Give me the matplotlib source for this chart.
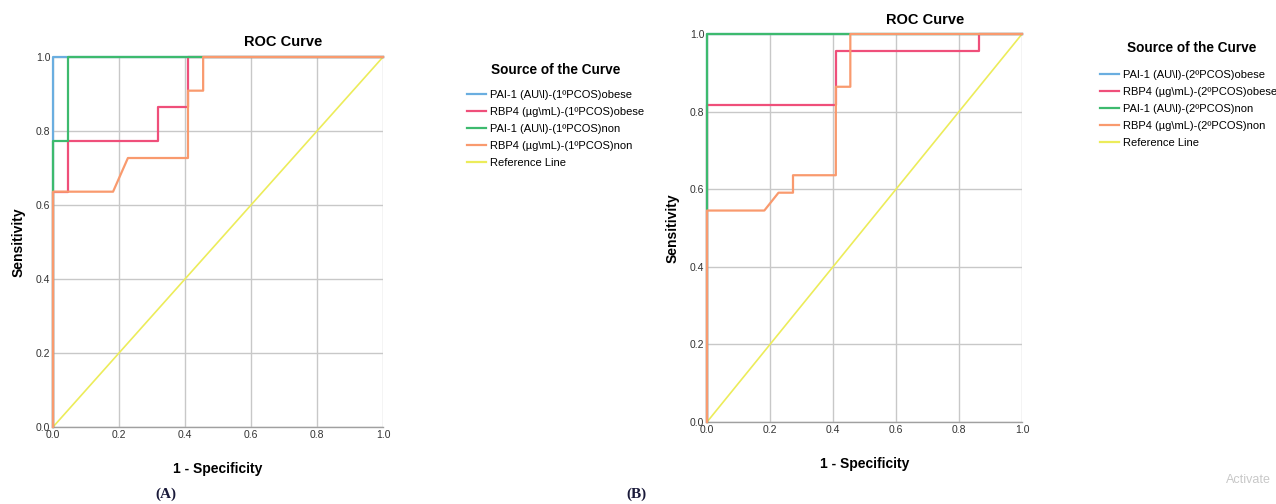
import matplotlib
matplotlib.use("Agg")
import matplotlib.pyplot as plt
from matplotlib.lines import Line2D

plt.rcParams['font.family'] = ['Liberation Sans', 'DejaVu Sans']

# ---------------- data ----------------
# Panel A (1ºPCOS)
a_pai_obese_x = [0.0, 0.0, 1.0]
a_pai_obese_y = [0.0, 1.0, 1.0]
a_rbp_obese_x = [0.0, 0.0, 0.045, 0.045, 0.318, 0.318, 0.409, 0.409, 1.0]
a_rbp_obese_y = [0.0, 0.636, 0.636, 0.773, 0.773, 0.864, 0.864, 1.0, 1.0]
a_pai_non_x = [0.0, 0.0, 0.045, 0.045, 1.0]
a_pai_non_y = [0.0, 0.773, 0.773, 1.0, 1.0]
a_rbp_non_x = [0.0, 0.0, 0.182, 0.227, 0.409, 0.409, 0.455, 0.455, 1.0]
a_rbp_non_y = [0.0, 0.636, 0.636, 0.727, 0.727, 0.909, 0.909, 1.0, 1.0]

# Panel B (2ºPCOS)
b_pai_obese_x = [0.0, 0.0, 1.0]
b_pai_obese_y = [0.0, 1.0, 1.0]
b_rbp_obese_x = [0.0, 0.0, 0.409, 0.409, 0.864, 0.864, 1.0]
b_rbp_obese_y = [0.0, 0.818, 0.818, 0.955, 0.955, 1.0, 1.0]
b_pai_non_x = [0.0, 0.0, 1.0]
b_pai_non_y = [0.0, 1.0, 1.0]
b_rbp_non_x = [0.0, 0.0, 0.182, 0.227, 0.273, 0.273, 0.409, 0.409, 0.455, 0.455, 1.0]
b_rbp_non_y = [0.0, 0.545, 0.545, 0.591, 0.591, 0.636, 0.636, 0.864, 0.864, 1.0, 1.0]

ref_x = [0.0, 1.0]
ref_y = [0.0, 1.0]

ticks = [0.0, 0.2, 0.4, 0.6, 0.8, 1.0]
tick_labels = ["0.0", "0.2", "0.4", "0.6", "0.8", "1.0"]

labels_a = ["PAI-1 (AU\\l)-(1ºPCOS)obese", "RBP4 (µg\\mL)-(1ºPCOS)obese",
            "PAI-1 (AU\\l)-(1ºPCOS)non", "RBP4 (µg\\mL)-(1ºPCOS)non", "Reference Line"]
labels_b = ["PAI-1 (AU\\l)-(2ºPCOS)obese", "RBP4 (µg\\mL)-(2ºPCOS)obese",
            "PAI-1 (AU\\l)-(2ºPCOS)non", "RBP4 (µg\\mL)-(2ºPCOS)non", "Reference Line"]

colors = ["#6aaee0", "#ef4f7a", "#3dba6e", "#f99a6e", "#ecec5a"]
grid_color = "#c8c8c8"

fig = plt.figure(figsize=(12.76, 5.04), dpi=100)


def draw_panel(ax, series):
    ax.plot(ref_x, ref_y, color=colors[4], lw=1.2, zorder=2, clip_on=False)
    for (x, y), c in zip(series, colors[:4]):
        ax.plot(x, y, color=c, lw=1.6, zorder=3, clip_on=False)
    ax.set_xlim(0, 1)
    ax.set_ylim(0, 1)
    ax.set_xticks(ticks)
    ax.set_xticklabels(tick_labels)
    ax.set_yticks(ticks)
    ax.set_yticklabels(tick_labels)
    ax.grid(True, color=grid_color, lw=1.0)
    ax.set_axisbelow(True)
    for s in ['top', 'right', 'left']:
        ax.spines[s].set_visible(False)
    ax.spines['bottom'].set_color("#a0a0a0")
    ax.spines['bottom'].set_linewidth(1.0)
    ax.tick_params(length=0, labelsize=7.5, colors="#333333", pad=2)
    ax.set_xlabel("1 - Specificity", fontsize=10, fontweight='bold', labelpad=16)
    ax.set_ylabel("Sensitivity", fontsize=10, fontweight='bold', labelpad=7)


ax_a = fig.add_axes([53 / 1276, 77 / 504, 330 / 1276, 370 / 504])
draw_panel(ax_a, [(a_pai_obese_x, a_pai_obese_y), (a_rbp_obese_x, a_rbp_obese_y),
                  (a_pai_non_x, a_pai_non_y), (a_rbp_non_x, a_rbp_non_y)])

ax_b = fig.add_axes([707 / 1276, 82 / 504, 315 / 1276, 388 / 504])
draw_panel(ax_b, [(b_pai_obese_x, b_pai_obese_y), (b_rbp_obese_x, b_rbp_obese_y),
                  (b_pai_non_x, b_pai_non_y), (b_rbp_non_x, b_rbp_non_y)])

fig.text(283 / 1276, 1 - 42 / 504, "ROC Curve", ha='center', va='center',
         fontsize=10.5, fontweight='bold')
fig.text(925 / 1276, 1 - 20 / 504, "ROC Curve", ha='center', va='center',
         fontsize=10.5, fontweight='bold')


def add_legend(ax, labels, x, y, tx, ty):
    handles = [Line2D([0], [0], color=c, lw=1.6) for c in colors]
    ax.legend(handles, labels, loc='upper left', bbox_to_anchor=(x, y),
              bbox_transform=fig.transFigure, frameon=False, fontsize=8,
              handlelength=1.75, handletextpad=0.3,
              labelspacing=0.62, borderaxespad=0, borderpad=0)
    fig.text(tx, ty, "Source of the Curve", ha='left', va='center',
             fontsize=9.8, fontweight='bold')


add_legend(ax_a, labels_a, 467 / 1276, 1 - 90 / 504, 491 / 1276, 1 - 70 / 504)
add_legend(ax_b, labels_b, 1100 / 1276, 1 - 70 / 504, 1127 / 1276, 1 - 48 / 504)

fig.text(166 / 1276, 1 - 494 / 504, "(A)", ha='center', va='center',
         fontsize=11, fontweight='bold', family=['Liberation Serif', 'DejaVu Serif'],
         color="#1a1a3a")
fig.text(636 / 1276, 1 - 494 / 504, "(B)", ha='center', va='center',
         fontsize=11, fontweight='bold', family=['Liberation Serif', 'DejaVu Serif'],
         color="#1a1a3a")
fig.text(1248 / 1276, 1 - 480 / 504, "Activate", ha='center', va='center',
         fontsize=9, color="#c8c8c8")

fig.savefig("out.png", dpi=100)
